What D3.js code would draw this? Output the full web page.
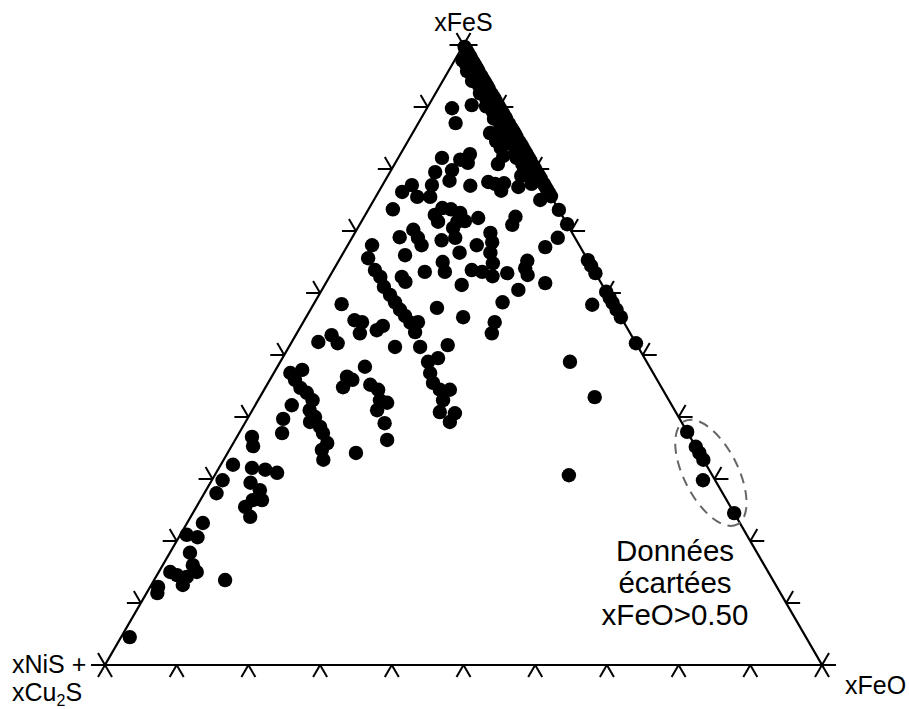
<!DOCTYPE html>
<html><head><meta charset="utf-8">
<script src="https://cdn.jsdelivr.net/npm/d3@7"></script>
<style>body{margin:0;background:#fff}svg{display:block}</style>
</head><body>
<svg id="chart" width="909" height="709"></svg>
<script>
// ---- data ----
const apexLabel = "xFeS";
const leftLabel = ["xNiS +", "xCu", "2", "S"];
const rightLabel = "xFeO";
const tickFractions = [0, 0.1, 0.2, 0.3, 0.4, 0.5, 0.6, 0.7, 0.8, 0.9, 1];
const noteLines = ["Données", "écartées", "xFeO>0.50"];
const excludedCenter = [0.310, 0.690]; // [xFeS, xFeO]

// points lying on (or very near) the FeS–FeO side
const edgeFeS = [0.997,0.987,0.979,0.968,0.958,0.950,0.939,0.929,0.921,0.910,0.902,0.890,0.881,0.873,0.861,0.852,0.844,0.832,0.823,0.813,0.805,0.794,0.784,0.776,0.766,0.756,0.734,0.711,0.653,0.644,0.632,0.602,0.592,0.584,0.573,0.561,0.519,0.376,0.352,0.342,0.331,0.245,
  0.992,0.982,0.973,0.963,0.944,0.934,0.915,0.896,0.885,0.866,0.857,0.838,0.827,0.818,0.800,0.789,0.771,0.761,
  0.968,0.951,0.934,0.912,0.893,0.871,0.852,0.829,0.808,0.787,
  0.975,0.958,0.942,0.922,0.901,0.881,0.862,0.842,0.818,0.797,0.776];
const edgeFeO = [0.003,0.013,0.021,0.032,0.042,0.050,0.061,0.071,0.079,0.090,0.098,0.110,0.119,0.127,0.139,0.148,0.156,0.168,0.177,0.187,0.195,0.206,0.216,0.224,0.234,0.244,0.266,0.289,0.347,0.356,0.368,0.398,0.408,0.416,0.427,0.439,0.481,0.624,0.648,0.658,0.669,0.755,
  0.008,0.018,0.027,0.037,0.056,0.066,0.085,0.104,0.115,0.134,0.143,0.162,0.173,0.182,0.200,0.211,0.229,0.239,
  0.020,0.037,0.055,0.076,0.094,0.116,0.136,0.158,0.178,0.199,
  0.011,0.026,0.041,0.062,0.081,0.102,0.119,0.140,0.165,0.186,0.207];

// interior points
const innerFeS = [0.898,0.874,0.903,0.858,0.845,0.834,0.821,0.808,0.824,0.810,0.773,0.779,0.776,0.777,0.765,0.789,0.771,0.750,
  0.721,0.723,0.710,0.697,0.682,0.677,0.665,0.674,0.689,0.665,0.648,0.637,0.634,0.627,0.632,0.652,0.640,0.629,0.616,0.613,0.605,0.585,0.581,0.561,0.553,0.535,
  0.818,0.815,0.795,0.798,0.774,0.763,0.755,0.774,0.755,0.781,0.735,0.726,0.737,0.735,0.729,0.715,0.715,0.716,0.702,0.689,0.677,0.690,0.689,0.705,0.685,0.661,0.650,0.634,0.634,
  0.677,0.656,0.637,0.626,0.626,0.618,0.610,0.597,0.585,0.573,0.563,0.552,0.553,0.537,0.576,0.582,0.556,0.553,0.535,0.540,0.547,0.521,0.532,0.519,0.513,0.513,0.516,0.489,0.495,0.481,
  0.471,0.476,0.460,0.447,0.439,0.427,0.419,0.411,0.400,0.392,0.384,0.374,0.358,0.347,0.331,0.465,0.448,0.460,0.452,0.444,0.427,0.423,0.411,0.390,0.363,0.342,0.397,0.374,0.368,0.353,
  0.471,0.455,0.444,0.444,0.427,0.408,0.406,0.392,
  0.323,0.298,0.277,0.318,0.315,0.310,0.294,0.282,0.266,0.255,0.239,0.266,0.229,0.206,0.210,0.181,0.161,0.150,0.142,0.129,0.150,0.145,0.126,0.116,0.137,0.045,
  0.489,0.432,0.306,0.298];
const innerFeO = [0.035,0.052,0.060,0.108,0.123,0.135,0.145,0.144,0.097,0.101,0.123,0.145,0.156,0.168,0.170,0.186,0.191,0.232,
  0.160,0.211,0.213,0.189,0.199,0.180,0.162,0.277,0.287,0.205,0.217,0.193,0.209,0.227,0.245,0.263,0.266,0.275,0.306,0.191,0.274,0.262,0.389,0.219,0.267,0.272,
  0.061,0.088,0.063,0.085,0.041,0.033,0.058,0.069,0.076,0.090,0.034,0.097,0.102,0.115,0.131,0.107,0.134,0.144,0.079,0.092,0.103,0.066,0.144,0.133,0.127,0.088,0.146,0.157,0.129,
  0.034,0.039,0.058,0.071,0.101,0.110,0.084,0.099,0.112,0.125,0.137,0.150,0.160,0.164,0.175,0.039,0.070,0.082,0.088,0.109,0.114,0.037,0.050,0.065,0.148,0.183,0.220,0.206,0.217,0.122,
  0.023,0.037,0.035,0.049,0.062,0.076,0.051,0.080,0.093,0.090,0.108,0.117,0.131,0.129,0.139,0.105,0.108,0.115,0.144,0.159,0.170,0.182,0.174,0.195,0.212,0.179,0.050,0.060,0.021,0.030,
  0.218,0.230,0.245,0.259,0.258,0.263,0.285,0.285,
  0.017,0.015,0.017,0.046,0.066,0.085,0.056,0.075,0.073,0.068,0.083,0.086,0.022,0.026,0.009,0.028,0.042,0.053,0.043,0.044,0.016,0.028,0.011,0.015,0.099,0.012,
  0.404,0.467,0.494,0.685];

// ---- drawing ----
const svg = d3.select("#chart");
const FONT = "Liberation Sans, Arial, Helvetica, sans-serif";
const xs = d3.scaleLinear().domain([0, 1]).range([105, 822]);
const ys = d3.scaleLinear().domain([0, 1]).range([665, 45]);
const proj = (feS, feO) => [xs(feO + feS / 2), ys(feS)];

const vTop = proj(1, 0), vBL = proj(0, 0), vBR = proj(0, 1);
svg.append("path")
  .attr("d", d3.line()([vTop, vBL, vBR, vTop]) + "Z")
  .attr("fill", "none").attr("stroke", "#000").attr("stroke-width", 2.2)
  .attr("stroke-linejoin", "miter");

const TL = 14, c60 = Math.cos(Math.PI / 3), s60 = Math.sin(Math.PI / 3);
const tickSegs = [];
tickFractions.forEach(t => {
  const b = proj(0, t);
  tickSegs.push([b, [b[0] - TL * c60, b[1] + TL * s60]]);
  tickSegs.push([b, [b[0] + TL * c60, b[1] + TL * s60]]);
  const l = proj(t, 0);
  tickSegs.push([l, [l[0] - TL, l[1]]]);
  tickSegs.push([l, [l[0] - TL * c60, l[1] - TL * s60]]);
  const r = proj(t, 1 - t);
  tickSegs.push([r, [r[0] + TL, r[1]]]);
  tickSegs.push([r, [r[0] + TL * c60, r[1] - TL * s60]]);
});
svg.append("g").selectAll("line").data(tickSegs).join("line")
  .attr("x1", d => d[0][0]).attr("y1", d => d[0][1])
  .attr("x2", d => d[1][0]).attr("y2", d => d[1][1])
  .attr("stroke", "#000").attr("stroke-width", 2);

const pts = edgeFeS.map((s, i) => proj(s, edgeFeO[i]))
  .concat(innerFeS.map((s, i) => proj(s, innerFeO[i])));
svg.append("g").selectAll("circle").data(pts).join("circle")
  .attr("cx", d => d[0]).attr("cy", d => d[1]).attr("r", 7.2).attr("fill", "#000");

const ec = proj(excludedCenter[0], excludedCenter[1]);
svg.append("ellipse")
  .attr("transform", `translate(${ec[0]},${ec[1]}) rotate(63)`)
  .attr("rx", 58).attr("ry", 27)
  .attr("fill", "none").attr("stroke", "#666").attr("stroke-width", 2)
  .attr("stroke-dasharray", "10,7");

const lab = svg.append("g").attr("font-family", FONT).attr("font-size", 25).attr("fill", "#000");
lab.append("text").attr("x", vTop[0]).attr("y", 31).attr("text-anchor", "middle").text(apexLabel);
lab.append("text").attr("x", 12).attr("y", 673).text(leftLabel[0]);
const t2 = lab.append("text").attr("x", 12).attr("y", 701);
t2.append("tspan").text(leftLabel[1]);
t2.append("tspan").attr("font-size", 16).attr("dy", 5).text(leftLabel[2]);
t2.append("tspan").attr("dy", -5).text(leftLabel[3]);
lab.append("text").attr("x", 845).attr("y", 694).text(rightLabel);

svg.append("g").attr("font-family", FONT).attr("font-size", 29.5).attr("text-anchor", "middle")
  .selectAll("text").data(noteLines).join("text")
  .attr("x", 675).attr("y", (d, i) => 561 + i * 32).text(d => d);
</script>
</body></html>
